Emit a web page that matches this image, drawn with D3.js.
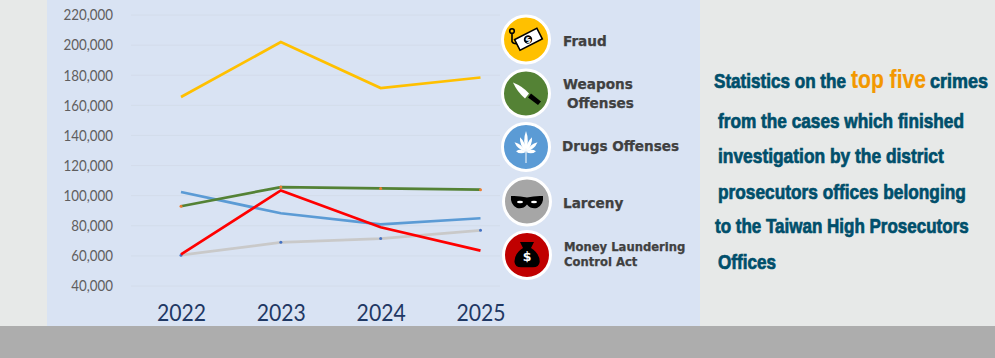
<!DOCTYPE html>
<html><head><meta charset="utf-8">
<script src="https://cdn.jsdelivr.net/npm/d3@7"></script>
<style>html,body{margin:0;padding:0;background:#e7e9e8;overflow:hidden}svg{display:block}</style>
</head><body><svg id="c" width="995" height="358"></svg>
<script>
const years = ["2022","2023","2024","2025"];
const fraud = [165500,202000,171500,178500];
const weapons = [93000,105700,104800,104000];
const drugs = [102400,88300,81000,85000];
const larceny = [60500,69000,71500,77000];
const moneyLaundering = [61000,103500,79000,63500];
const yTicks = [40000,60000,80000,100000,120000,140000,160000,180000,200000,220000];
const seriesNames = ["Fraud","Weapons Offenses","Drugs Offenses","Larceny","Money Laundering Control Act"];
const seriesColors = ["#ffc000","#548235","#5b9bd5","#c9c9c9","#ff0000"];
const markerColors = [null,"#ed7d31",null,"#4472c4",null];
const titleRuns = [
  ["Statistics on the",714,88,132,0],
  ["top five",851,88,75,1],
  ["crimes",930,88,58,0],
  ["from the cases which finished",718,128,246,0],
  ["investigation by the district",718,163,226,0],
  ["prosecutors offices belonging",718,199,248,0],
  ["to the Taiwan High Prosecutors",715,233,254,0],
  ["Offices",718,269,58,0]
];
const svg = d3.select("#c");
svg.append("rect").attr("width",995).attr("height",358).attr("fill","#e7e9e8");
svg.append("rect").attr("x",47).attr("width",653).attr("height",326).attr("fill","#d9e3f3");
svg.append("rect").attr("y",326).attr("width",995).attr("height",32).attr("fill","#adadad");

const x = d3.scalePoint().domain(years).range([181,480.5]);
const y = d3.scaleLinear().domain([40000,220000]).range([286,15]);

svg.append("g").selectAll("line").data(yTicks).join("line")
  .attr("x1",131).attr("x2",500).attr("y1",y).attr("y2",y).attr("stroke","#d3dcea").attr("stroke-width",1);
const gy = svg.append("g").attr("transform","translate(131,0)")
  .call(d3.axisLeft(y).tickValues(yTicks).tickSize(0).tickPadding(18).tickFormat(d3.format(",")));
gy.select(".domain").remove();
gy.selectAll("text").attr("fill","#605e5e").attr("font-family","Lato").attr("font-size",15)
  .each(function(){ this.setAttribute("textLength", this.getComputedTextLength()*0.89); this.setAttribute("lengthAdjust","spacingAndGlyphs"); });

const gx = svg.append("g").attr("transform","translate(0,300)")
  .call(d3.axisBottom(x).tickSize(0).tickPadding(0));
gx.select(".domain").remove();
gx.selectAll("text").attr("fill","#1f3864").attr("font-family","Lato").attr("font-size",23).attr("dy","0.9em")
  .each(function(){ this.setAttribute("textLength", this.getComputedTextLength()*0.92); this.setAttribute("lengthAdjust","spacingAndGlyphs"); });

const all = [fraud,weapons,drugs,larceny,moneyLaundering];
const line = d3.line().x((d,i)=>x(years[i])).y(d=>y(d));
[3,0,2,1,4].forEach(k=>{
  svg.append("path").datum(all[k]).attr("d",line).attr("fill","none")
    .attr("stroke",seriesColors[k]).attr("stroke-width",2.7);
  if(markerColors[k]) svg.append("g").selectAll("circle").data(all[k]).join("circle")
    .attr("cx",(d,i)=>x(years[i])).attr("cy",d=>y(d)).attr("r",1.5).attr("fill",markerColors[k]);
});

// legend
const legendY = [39.5,93.5,147,201.5,255];
const legendX = [526,526,526,527,527];
const circleFill = ["#ffc000","#548235","#5b9bd5","#a6a6a6","#c00000"];
const g = svg.append("g");
legendY.forEach((cy,i)=>{
  g.append("circle").attr("cx",legendX[i]).attr("cy",cy).attr("r",23.5)
   .attr("fill",circleFill[i]).attr("stroke","#fff").attr("stroke-width",3);
});
const lab = (t,xp,yp,fs)=>g.append("text").attr("x",xp).attr("y",yp).text(t)
  .attr("font-family","DejaVu Sans").attr("font-weight","bold").attr("font-size",fs)
  .attr("fill","#404040").attr("stroke","#404040").attr("stroke-width",0.25);
lab("Fraud",563,46,13.6);
lab("Weapons",563,89,13.6);
lab("Offenses",567,108,13.6);
lab("Drugs Offenses",562,151,13.6);
lab("Larceny",563,208,13.6);
lab("Money Laundering",564,251,11.6);
lab("Control Act",564,266,11.6);

// icons
const ic = (i)=>svg.append("g").attr("transform",`translate(${legendX[i]},${legendY[i]})`);
let a = ic(0);
a.append("circle").attr("cx",-14).attr("cy",-8.5).attr("r",2.3).attr("fill","none").attr("stroke","#000").attr("stroke-width",1.6);
a.append("path").attr("d","M-14,-6V2Q-13,5 -7,4").attr("fill","none").attr("stroke","#000").attr("stroke-width",1.6);
a.append("g").attr("transform","translate(2,0) rotate(-27)").call(s=>{
  s.append("rect").attr("x",-12).attr("y",-6).attr("width",25).attr("height",12).attr("fill","#fff").attr("stroke","#000").attr("stroke-width",1.6);
  s.append("circle").attr("cx",0).attr("cy",0).attr("r",4.2).attr("fill","#000");
  s.append("text").attr("x",0).attr("y",3).attr("text-anchor","middle").attr("font-size",8).attr("font-family","DejaVu Sans").attr("font-weight","bold").attr("fill","#fff").text("$");
});
// knife
a = ic(1);
a.append("path").attr("d","M-13,-11Q-3,-7 3,0L-1,5Q-9,-2 -13,-11Z").attr("fill","#fff");
a.append("path").attr("d","M2,4L5,0L15,8L12,11.5Z").attr("fill","#000");
// leaf
a = ic(2);
[[-85,10],[-50,15],[-22,16],[22,16],[50,15],[85,10],[0,21]].forEach(([r,len])=>{
  a.append("path").attr("transform",`translate(0,5) rotate(${r})`)
   .attr("d",`M0,0Q-3.6,${-len*0.55} 0,${-len}Q3.6,${-len*0.55} 0,0Z`).attr("fill","#fff");
});
a.append("path").attr("d","M0,5V16").attr("stroke","#fff").attr("stroke-width",1);
// mask
a = ic(3);
a.append("path").attr("d","M-16,-5.5Q-8,-6 0,-4Q8,-6 16,-5.5Q17,3 10,6.5Q4,8 0,3Q-4,8 -10,6.5Q-17,3 -16,-5.5Z").attr("fill","#000");
a.append("ellipse").attr("cx",-7).attr("cy",0.5).attr("rx",3).attr("ry",1.2).attr("fill","#fff");
a.append("ellipse").attr("cx",7).attr("cy",0.5).attr("rx",3).attr("ry",1.2).attr("fill","#fff");
// money bag
a = ic(4);
a.append("path").attr("d","M-7,-13L7,-13L4,-7Q13,-1 12.7,7Q12,12.3 6,12.3H-6Q-12,12.3 -12.5,7Q-13,-1 -4,-7Z").attr("fill","#000");
a.append("text").attr("y",6).attr("text-anchor","middle").attr("font-family","DejaVu Sans").attr("font-weight","bold").attr("font-size",12.5).attr("fill","#fff").text("$");

// right text
titleRuns.forEach(([s,xp,yp,w,hl])=>{
  const t = svg.append("text").text(s)
    .attr("font-family","Liberation Sans").attr("font-weight","bold")
    .attr("font-size",hl?25:20)
    .attr("fill",hl?"#f39800":"#004f6b").attr("stroke",hl?"#f39800":"#004f6b").attr("stroke-width",hl?0.2:0.7);
  const k = w / t.node().getComputedTextLength();
  t.attr("transform",`translate(${xp},${yp}) scale(${k},1)`);
});
</script></body></html>
